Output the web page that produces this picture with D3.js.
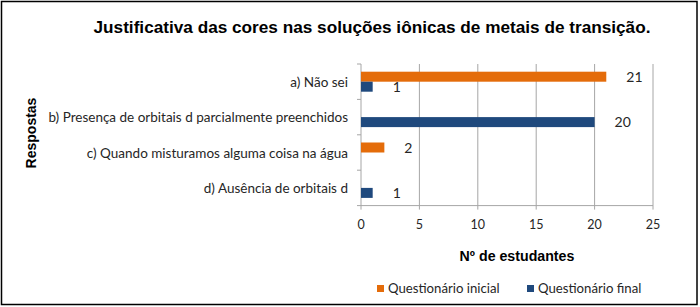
<!DOCTYPE html>
<html lang="pt">
<head>
  <meta charset="UTF-8">
  <title>Justificativa das cores</title>
  <script src="https://cdn.jsdelivr.net/npm/d3@7"></script>
  <style>
    body { margin: 0; background: #fff; }
    svg { display: block; }
  </style>
</head>
<body>
  <svg width="700" height="307"></svg>
  <script>
    // dados
    var categorias = [
      "a) Não sei",
      "b) Presença de orbitais d parcialmente preenchidos",
      "c) Quando misturamos alguma coisa na água",
      "d) Ausência de orbitais d"
    ];
    var series = ["Questionário inicial", "Questionário final"];
    var inicial = [21, 0, 2, 0];
    var final = [1, 20, 0, 1];
    var xTicks = [0, 5, 10, 15, 20, 25];
    var cores = ["#E46C0A", "#1F497D"];

    var svg = d3.select("svg");
    var marge = { top: 64, left: 361, right: 653, bottom: 205.6 };
    var labelFont = "Lato, 'Open Sans', sans-serif";

    // moldura
    svg.append("rect")
      .attr("x", 1.5).attr("y", 1.5)
      .attr("width", 695.5).attr("height", 303)
      .attr("fill", "none").attr("stroke", "#000").attr("stroke-width", 1.5);

    // titulo
    svg.append("text")
      .attr("x", 372).attr("y", 33)
      .attr("text-anchor", "middle")
      .attr("font-family", "'Liberation Sans', Arial, sans-serif")
      .attr("font-weight", "bold")
      .attr("font-size", 17.2)
      .text("Justificativa das cores nas soluções iônicas de metais de transição.");

    var x = d3.scaleLinear().domain([0, 25]).range([marge.left, marge.right]);
    var y = d3.scaleBand().domain(categorias).range([marge.top, marge.bottom]);
    var sub = d3.scaleBand().domain(series).range([y.bandwidth() / 2 - 10, y.bandwidth() / 2 + 10]);

    // grade vertical
    svg.append("g").selectAll("line")
      .data(xTicks)
      .enter().append("line")
      .attr("x1", function (d) { return x(d); })
      .attr("x2", function (d) { return x(d); })
      .attr("y1", marge.top).attr("y2", marge.bottom + 4)
      .attr("stroke", "#a6a6a6").attr("stroke-width", 1);

    // eixo x
    svg.append("line")
      .attr("x1", marge.left).attr("x2", marge.right)
      .attr("y1", marge.bottom).attr("y2", marge.bottom)
      .attr("stroke", "#a6a6a6");

    svg.append("g").selectAll("text")
      .data(xTicks)
      .enter().append("text")
      .attr("x", function (d) { return x(d); })
      .attr("y", 229)
      .attr("text-anchor", "middle")
      .attr("font-family", labelFont)
      .attr("font-size", 12.5)
      .attr("fill", "#262626")
      .text(function (d) { return d; });

    // eixo y: ticks
    var yEdges = categorias.map(function (c) { return y(c); }).concat([marge.bottom]);
    svg.append("g").selectAll("line")
      .data(yEdges)
      .enter().append("line")
      .attr("x1", marge.left - 4).attr("x2", marge.left)
      .attr("y1", function (d) { return d; })
      .attr("y2", function (d) { return d; })
      .attr("stroke", "#a6a6a6");

    svg.append("g").selectAll("text")
      .data(categorias)
      .enter().append("text")
      .attr("x", 348)
      .attr("y", function (d) { return y(d) + y.bandwidth() / 2 + 5; })
      .attr("text-anchor", "end")
      .attr("font-family", labelFont)
      .attr("font-size", 13.5)
      .attr("fill", "#262626")
      .text(function (d) { return d; });

    // barras
    var dados = [];
    categorias.forEach(function (c, i) {
      dados.push({ cat: c, serie: series[0], v: inicial[i], cor: cores[0] });
      dados.push({ cat: c, serie: series[1], v: final[i], cor: cores[1] });
    });

    var barras = svg.append("g").selectAll("g")
      .data(dados.filter(function (d) { return d.v > 0; }))
      .enter().append("g");

    barras.append("rect")
      .attr("x", x(0))
      .attr("y", function (d) { return y(d.cat) + sub(d.serie); })
      .attr("width", function (d) { return x(d.v) - x(0); })
      .attr("height", sub.bandwidth())
      .attr("fill", function (d) { return d.cor; });

    barras.append("text")
      .attr("x", function (d) { return x(d.v) + 20; })
      .attr("y", function (d) { return y(d.cat) + sub(d.serie) + sub.bandwidth() / 2 + 5; })
      .attr("font-family", labelFont)
      .attr("font-size", 14)
      .attr("fill", "#262626")
      .text(function (d) { return d.v; });

    // titulos dos eixos
    svg.append("text")
      .attr("x", 517).attr("y", 261)
      .attr("text-anchor", "middle")
      .attr("font-family", "'Liberation Sans', Arial, sans-serif")
      .attr("font-weight", "bold")
      .attr("font-size", 14.2)
      .text("Nº de estudantes");

    svg.append("text")
      .attr("transform", "translate(36,133) rotate(-90)")
      .attr("text-anchor", "middle")
      .attr("font-family", "'Liberation Sans', Arial, sans-serif")
      .attr("font-weight", "bold")
      .attr("font-size", 14)
      .text("Respostas");

    // legenda
    var legX = [377, 527];
    var leg = svg.append("g").selectAll("g")
      .data(series)
      .enter().append("g")
      .attr("transform", function (d, i) { return "translate(" + legX[i] + ",285)"; });
    leg.append("rect")
      .attr("width", 7).attr("height", 7)
      .attr("fill", function (d, i) { return cores[i]; });
    leg.append("text")
      .attr("x", 11).attr("y", 8)
      .attr("font-family", labelFont)
      .attr("font-size", 13.2)
      .attr("fill", "#262626")
      .text(function (d) { return d; });
  </script>
</body>
</html>
